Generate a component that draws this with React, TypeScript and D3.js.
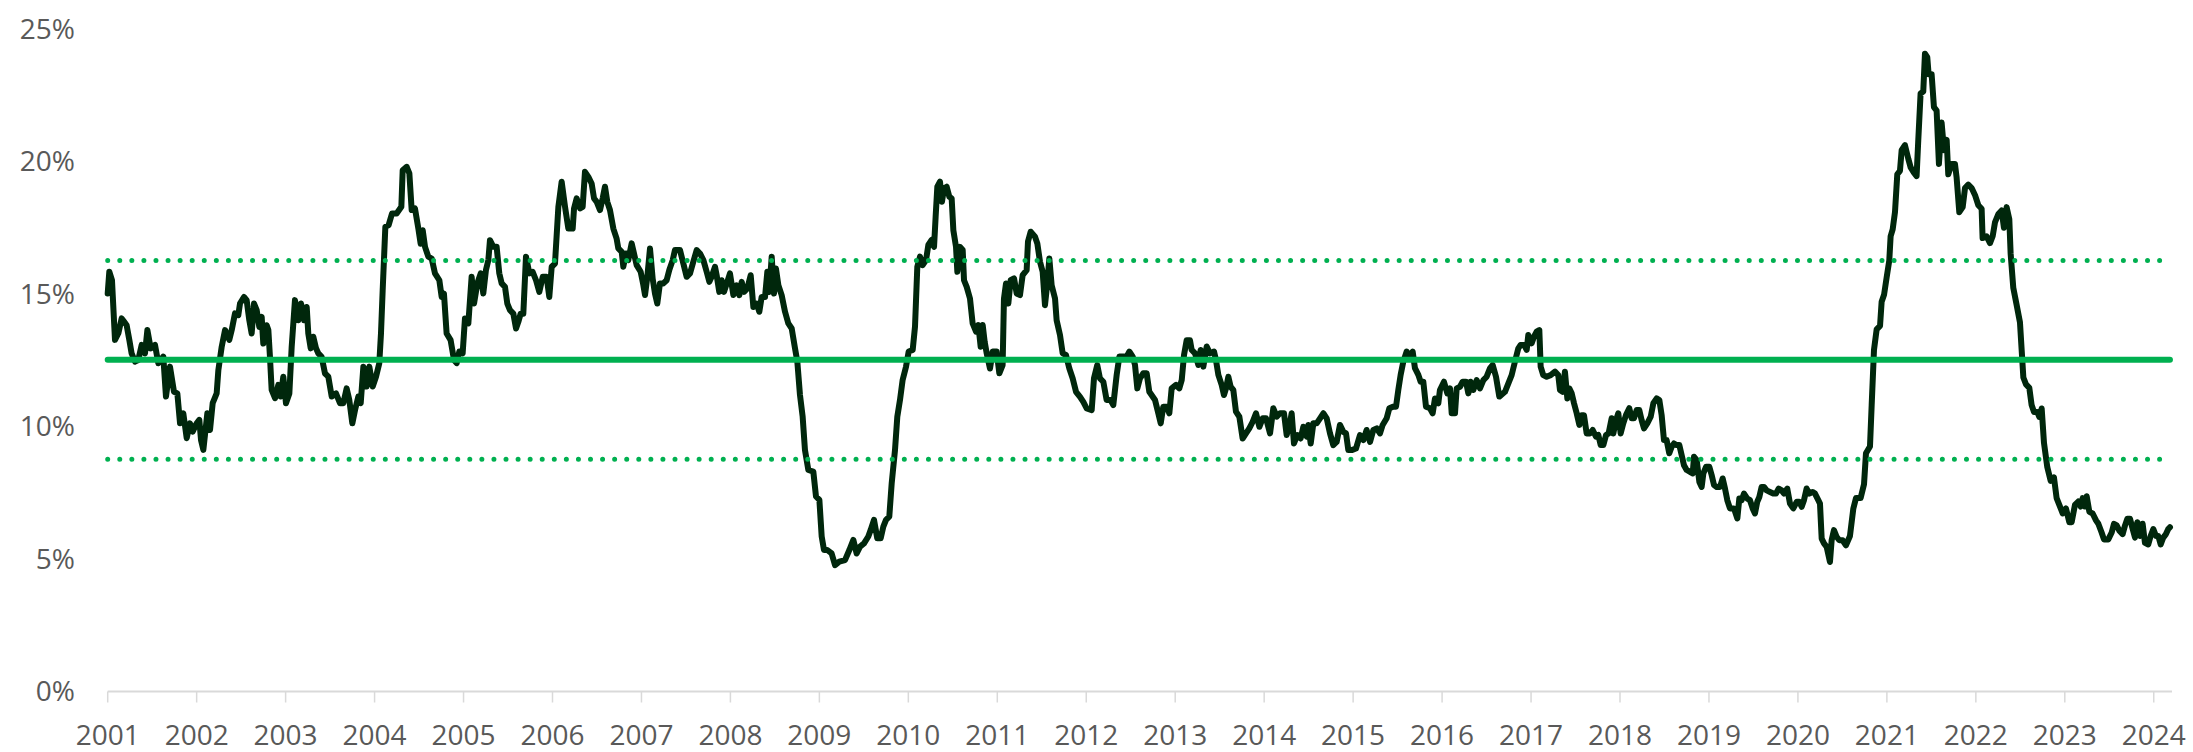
import React from "react";
import * as d3 from "d3";

const yearTicks = [2001, 2002, 2003, 2004, 2005, 2006, 2007, 2008, 2009, 2010, 2011, 2012, 2013, 2014, 2015, 2016, 2017, 2018, 2019, 2020, 2021, 2022, 2023, 2024];
const pctTicks = [0, 5, 10, 15, 20, 25];
const meanLevel = 12.5;
const upperBand = 16.25;
const lowerBand = 8.75;

// [decimal year, rate %]
const seg2001: [number, number][] = [
  [2001.0, 15.0], [2001.018, 15.82], [2001.048, 15.5], [2001.082, 13.25], [2001.12, 13.5], [2001.157, 14.06], [2001.183, 13.94],
  [2001.213, 13.8], [2001.243, 13.25], [2001.269, 12.74], [2001.307, 12.43], [2001.344, 12.49], [2001.382, 13.06], [2001.419, 12.74],
  [2001.446, 13.62], [2001.483, 12.93], [2001.532, 13.06], [2001.569, 12.37], [2001.625, 12.62], [2001.655, 11.11], [2001.7, 12.24],
  [2001.745, 11.29], [2001.783, 11.23], [2001.813, 10.1], [2001.85, 10.48], [2001.888, 9.54], [2001.925, 10.1], [2001.955, 9.79],
  [2002.0, 10.1], [2002.03, 10.23], [2002.049, 9.47], [2002.075, 9.1], [2002.12, 10.48], [2002.15, 9.85], [2002.18, 10.86],
  [2002.225, 11.23], [2002.244, 12.11], [2002.281, 12.98], [2002.319, 13.62], [2002.367, 13.25], [2002.394, 13.62], [2002.431, 14.25],
  [2002.468, 14.18], [2002.487, 14.62], [2002.532, 14.87], [2002.562, 14.75], [2002.592, 13.99], [2002.618, 13.49], [2002.645, 14.62],
  [2002.675, 14.37], [2002.704, 13.74], [2002.731, 14.12], [2002.749, 13.11], [2002.787, 13.8], [2002.806, 13.62], [2002.824, 12.61],
  [2002.843, 11.36], [2002.881, 11.05], [2002.918, 11.55], [2002.944, 11.11], [2002.974, 11.86], [2003.004, 10.86], [2003.042, 11.23],
  [2003.068, 12.98], [2003.105, 14.75], [2003.143, 13.99], [2003.173, 14.62], [2003.207, 13.99], [2003.237, 14.49], [2003.255, 13.49],
  [2003.282, 12.93], [2003.311, 13.37], [2003.342, 12.93], [2003.368, 12.74], [2003.405, 12.61], [2003.443, 11.98], [2003.48, 11.86],
  [2003.518, 11.11], [2003.566, 11.23], [2003.611, 10.86], [2003.649, 10.86], [2003.686, 11.42], [2003.716, 10.98], [2003.75, 10.1],
  [2003.78, 10.6], [2003.817, 11.11], [2003.844, 10.86], [2003.874, 12.24], [2003.911, 11.49], [2003.941, 12.24], [2003.979, 11.49],
  [2004.016, 11.86], [2004.053, 12.37], [2004.072, 13.49], [2004.091, 15.12], [2004.121, 17.51], [2004.158, 17.58], [2004.196, 18.02],
  [2004.248, 18.02], [2004.301, 18.27], [2004.316, 19.65], [2004.361, 19.78], [2004.391, 19.53], [2004.417, 18.15], [2004.454, 18.21],
  [2004.492, 17.45], [2004.518, 16.88], [2004.541, 17.39], [2004.567, 16.76], [2004.604, 16.39], [2004.642, 16.32], [2004.679, 15.76],
  [2004.728, 15.5], [2004.754, 14.87], [2004.78, 14.99], [2004.81, 13.49], [2004.855, 13.24], [2004.893, 12.49], [2004.923, 12.37],
  [2004.953, 12.81],
];

const seg2005: [number, number][] = [
  [2004.99, 12.74], [2005.016, 14.06], [2005.054, 13.87], [2005.091, 15.63], [2005.118, 14.62], [2005.155, 15.38], [2005.193, 15.76],
  [2005.222, 15.0], [2005.252, 15.89], [2005.279, 16.26], [2005.297, 17.01], [2005.335, 16.76], [2005.372, 16.76], [2005.402, 15.76],
  [2005.429, 15.38], [2005.466, 15.25], [2005.492, 14.62], [2005.522, 14.37], [2005.56, 14.24], [2005.59, 13.68], [2005.616, 13.93],
  [2005.642, 14.24], [2005.672, 14.24], [2005.702, 16.39], [2005.74, 15.76], [2005.777, 15.82], [2005.815, 15.5], [2005.852, 15.06],
  [2005.89, 15.63], [2005.934, 15.63], [2005.964, 14.87], [2005.991, 16.01], [2006.028, 16.13], [2006.066, 18.27], [2006.103, 19.22],
  [2006.141, 18.27], [2006.178, 17.45], [2006.227, 17.45], [2006.242, 18.21], [2006.272, 18.59], [2006.309, 18.21], [2006.339, 18.27],
  [2006.365, 19.59], [2006.403, 19.4], [2006.44, 19.15], [2006.467, 18.59], [2006.497, 18.46], [2006.534, 18.15], [2006.564, 18.59],
  [2006.59, 19.03], [2006.616, 18.46], [2006.646, 18.15], [2006.684, 17.45], [2006.721, 17.07], [2006.74, 16.7], [2006.778, 16.57],
  [2006.796, 16.01], [2006.826, 16.51], [2006.852, 16.26], [2006.89, 16.89], [2006.916, 16.51], [2006.946, 16.07], [2006.991, 15.82],
  [2007.021, 15.32], [2007.04, 14.94], [2007.066, 15.63], [2007.096, 16.7], [2007.126, 15.56], [2007.152, 15.0], [2007.178, 14.62],
  [2007.208, 15.38], [2007.246, 15.38], [2007.283, 15.5], [2007.313, 15.89], [2007.351, 16.26], [2007.377, 16.64], [2007.433, 16.64],
  [2007.471, 16.13], [2007.508, 15.63], [2007.546, 15.76], [2007.583, 16.2], [2007.621, 16.64], [2007.658, 16.51], [2007.696, 16.26],
  [2007.733, 15.82], [2007.763, 15.44], [2007.789, 15.63], [2007.827, 16.01], [2007.845, 15.7], [2007.875, 15.06], [2007.902, 15.5],
  [2007.928, 15.06], [2007.965, 15.44], [2007.995, 15.76], [2008.033, 14.94], [2008.07, 15.31], [2008.1, 14.94], [2008.127, 15.44],
  [2008.153, 15.06], [2008.19, 15.19], [2008.228, 15.69], [2008.258, 14.49], [2008.295, 14.62], [2008.325, 14.31], [2008.351, 14.87],
  [2008.389, 14.87], [2008.415, 15.82], [2008.437, 15.06], [2008.464, 16.39], [2008.49, 15.0], [2008.512, 15.94], [2008.539, 15.31],
  [2008.576, 14.94], [2008.614, 14.31], [2008.651, 13.87], [2008.689, 13.68], [2008.726, 12.93], [2008.752, 12.43], [2008.782, 11.17],
];

const seg2009: [number, number][] = [
  [2008.812, 10.35], [2008.838, 9.09], [2008.876, 8.34], [2008.932, 8.28], [2008.962, 7.34], [2009.0, 7.21], [2009.026, 5.83],
  [2009.052, 5.32], [2009.089, 5.32], [2009.138, 5.19], [2009.176, 4.75], [2009.224, 4.88], [2009.288, 4.94], [2009.337, 5.32],
  [2009.382, 5.7], [2009.419, 5.19], [2009.457, 5.45], [2009.502, 5.57], [2009.55, 5.83], [2009.577, 6.08], [2009.614, 6.46],
  [2009.651, 5.76], [2009.689, 5.76], [2009.719, 6.2], [2009.749, 6.46], [2009.786, 6.58], [2009.813, 7.84], [2009.85, 9.09],
  [2009.876, 10.35], [2009.906, 10.98], [2009.936, 11.74], [2009.974, 12.24], [2010.004, 12.81], [2010.049, 12.87], [2010.075, 13.75],
  [2010.101, 16.01], [2010.131, 16.39], [2010.161, 16.07], [2010.199, 16.26], [2010.225, 16.83], [2010.262, 17.02], [2010.289, 16.76],
  [2010.307, 17.9], [2010.326, 19.03], [2010.356, 19.22], [2010.378, 18.46], [2010.401, 18.97], [2010.431, 19.03], [2010.461, 18.65],
  [2010.487, 18.59], [2010.506, 17.39], [2010.536, 16.76], [2010.551, 15.82], [2010.581, 16.76], [2010.611, 16.64], [2010.626, 15.5],
  [2010.656, 15.25], [2010.693, 14.81], [2010.723, 13.87], [2010.761, 13.56], [2010.787, 13.81], [2010.813, 12.99], [2010.836, 13.81],
  [2010.858, 13.18], [2010.881, 12.74], [2010.918, 12.17], [2010.948, 12.81], [2010.993, 12.81], [2011.023, 11.99], [2011.06, 12.3],
  [2011.075, 14.81], [2011.098, 15.38], [2011.124, 14.62], [2011.15, 15.5], [2011.188, 15.57], [2011.218, 15.0], [2011.255, 14.94],
  [2011.285, 15.69], [2011.33, 15.88], [2011.345, 16.96], [2011.375, 17.33], [2011.424, 17.14], [2011.45, 16.89], [2011.48, 16.2],
  [2011.51, 15.82], [2011.536, 14.56], [2011.562, 15.38], [2011.585, 16.32], [2011.611, 15.31], [2011.649, 14.81], [2011.667, 13.99],
  [2011.705, 13.43], [2011.735, 12.74], [2011.772, 12.68], [2011.81, 12.17], [2011.847, 11.8], [2011.885, 11.29], [2011.93, 11.1],
  [2011.967, 10.91], [2012.005, 10.66], [2012.061, 10.6], [2012.087, 11.8], [2012.124, 12.3], [2012.154, 11.8], [2012.192, 11.67],
  [2012.229, 10.98], [2012.274, 10.98], [2012.304, 10.79], [2012.342, 11.93], [2012.372, 12.62], [2012.417, 12.62], [2012.454, 12.62],
  [2012.484, 12.81], [2012.522, 12.62], [2012.548, 12.3], [2012.574, 11.42], [2012.604, 11.8], [2012.642, 11.99], [2012.679, 11.99],
  [2012.709, 11.29],
];

const seg2013: [number, number][] = [
  [2012.773, 10.98], [2012.81, 10.48], [2012.837, 10.1], [2012.866, 10.73], [2012.904, 10.73], [2012.934, 10.48], [2012.96, 11.42],
  [2013.009, 11.55], [2013.046, 11.42], [2013.073, 11.73], [2013.099, 12.68], [2013.129, 13.24], [2013.166, 13.24], [2013.185, 12.87],
  [2013.223, 12.74], [2013.26, 12.3], [2013.286, 12.87], [2013.316, 12.24], [2013.354, 13.0], [2013.391, 12.74], [2013.436, 12.81],
  [2013.458, 12.49], [2013.485, 11.93], [2013.522, 11.55], [2013.548, 11.17], [2013.571, 11.42], [2013.597, 11.86], [2013.623, 11.48],
  [2013.653, 11.36], [2013.683, 10.54], [2013.721, 10.35], [2013.758, 9.53], [2013.796, 9.72], [2013.833, 9.91], [2013.871, 10.16],
  [2013.908, 10.48], [2013.946, 9.97], [2013.983, 10.29], [2014.021, 10.29], [2014.066, 9.72], [2014.103, 10.67], [2014.141, 10.35],
  [2014.178, 10.48], [2014.223, 10.48], [2014.253, 9.66], [2014.29, 10.1], [2014.309, 10.48], [2014.335, 9.34], [2014.373, 9.66],
  [2014.41, 9.53], [2014.44, 9.97], [2014.478, 9.6], [2014.496, 10.04], [2014.523, 9.34], [2014.553, 10.1], [2014.59, 10.1],
  [2014.628, 10.29], [2014.665, 10.48], [2014.703, 10.29], [2014.74, 9.72], [2014.777, 9.28], [2014.815, 9.4], [2014.852, 10.04],
  [2014.89, 9.78], [2014.92, 9.72], [2014.946, 9.09], [2014.984, 9.09], [2015.032, 9.15], [2015.077, 9.66], [2015.115, 9.47],
  [2015.152, 9.85], [2015.19, 9.4], [2015.227, 9.85], [2015.265, 9.91], [2015.302, 9.72], [2015.332, 10.04], [2015.377, 10.29],
  [2015.407, 10.67], [2015.452, 10.73], [2015.482, 10.73], [2015.508, 11.36], [2015.534, 11.93], [2015.564, 12.43], [2015.602, 12.81],
  [2015.632, 12.62], [2015.669, 12.81], [2015.695, 12.18], [2015.733, 11.93], [2015.759, 11.67], [2015.789, 11.67], [2015.819, 10.73],
  [2015.864, 10.67], [2015.894, 10.48], [2015.92, 11.04], [2015.958, 10.86], [2015.976, 11.36], [2016.021, 11.67], [2016.059, 11.23],
  [2016.089, 11.42], [2016.108, 10.48], [2016.145, 10.48], [2016.164, 11.42], [2016.201, 11.48], [2016.231, 11.67], [2016.269, 11.67],
  [2016.295, 11.23], [2016.321, 11.67], [2016.351, 11.36], [2016.389, 11.73], [2016.426, 11.42], [2016.464, 11.73], [2016.501, 11.86],
  [2016.539, 12.18], [2016.569, 12.3], [2016.606, 11.86], [2016.643, 11.11],
];

const seg2017: [number, number][] = [
  [2016.707, 11.29], [2016.745, 11.61], [2016.782, 11.92], [2016.819, 12.43], [2016.857, 12.93], [2016.883, 13.06], [2016.921, 13.06],
  [2016.951, 12.87], [2016.969, 13.43], [2017.007, 13.12], [2017.033, 13.37], [2017.063, 13.56], [2017.093, 13.62], [2017.108, 12.24],
  [2017.137, 11.92], [2017.175, 11.86], [2017.22, 11.92], [2017.269, 12.05], [2017.306, 11.92], [2017.325, 11.36], [2017.355, 11.29],
  [2017.381, 12.05], [2017.408, 11.04], [2017.43, 11.42], [2017.457, 11.23], [2017.483, 10.86], [2017.513, 10.48], [2017.543, 10.04],
  [2017.569, 10.41], [2017.595, 10.41], [2017.625, 9.72], [2017.663, 9.72], [2017.693, 9.85], [2017.73, 9.6], [2017.756, 9.66],
  [2017.783, 9.28], [2017.813, 9.28], [2017.843, 9.66], [2017.872, 9.72], [2017.906, 10.29], [2017.925, 9.72], [2017.955, 10.22],
  [2017.981, 10.48], [2018.007, 9.72], [2018.037, 10.1], [2018.067, 10.41], [2018.104, 10.67], [2018.131, 10.29], [2018.157, 10.29],
  [2018.187, 10.6], [2018.217, 10.6], [2018.243, 10.22], [2018.27, 9.91], [2018.307, 10.1], [2018.345, 10.35], [2018.375, 10.86],
  [2018.412, 11.04], [2018.442, 10.98], [2018.468, 10.41], [2018.494, 9.47], [2018.524, 9.47], [2018.554, 8.97], [2018.581, 9.22],
  [2018.607, 9.34], [2018.637, 9.28], [2018.667, 9.28], [2018.693, 8.9], [2018.719, 8.52], [2018.749, 8.34], [2018.787, 8.27],
  [2018.817, 8.21], [2018.832, 8.84], [2018.862, 8.71], [2018.892, 7.89], [2018.918, 7.7], [2018.937, 8.21], [2018.967, 8.46],
  [2019.004, 8.46], [2019.03, 8.15], [2019.057, 7.77], [2019.087, 7.7], [2019.124, 7.7], [2019.154, 8.02], [2019.18, 7.64],
  [2019.206, 7.2], [2019.236, 6.89], [2019.281, 6.89], [2019.319, 6.51], [2019.341, 7.26], [2019.367, 7.2], [2019.394, 7.45],
  [2019.431, 7.26], [2019.461, 7.2], [2019.491, 6.89], [2019.517, 6.7], [2019.543, 7.14], [2019.566, 7.32], [2019.592, 7.7],
  [2019.618, 7.7], [2019.648, 7.57], [2019.686, 7.51], [2019.723, 7.45], [2019.753, 7.45], [2019.783, 7.64], [2019.817, 7.57],
  [2019.843, 7.45], [2019.88, 7.64], [2019.911, 7.07], [2019.948, 6.89], [2019.986, 7.14], [2020.015, 7.14], [2020.042, 6.95],
  [2020.068, 7.2], [2020.098, 7.64], [2020.128, 7.45], [2020.166, 7.51], [2020.192, 7.45], [2020.229, 7.2], [2020.248, 7.07],
  [2020.267, 5.75], [2020.293, 5.57], [2020.323, 5.44], [2020.36, 4.87], [2020.379, 5.69], [2020.405, 6.07], [2020.435, 5.82],
  [2020.465, 5.69], [2020.502, 5.69], [2020.54, 5.5],
];

const seg2021: [number, number][] = [
  [2020.585, 5.85], [2020.623, 6.89], [2020.653, 7.28], [2020.705, 7.28], [2020.743, 7.8], [2020.765, 8.97], [2020.81, 9.23],
  [2020.829, 10.79], [2020.855, 12.87], [2020.885, 13.65], [2020.923, 13.78], [2020.941, 14.69], [2020.968, 14.95], [2020.997, 15.6],
  [2021.027, 16.25], [2021.042, 17.16], [2021.065, 17.42], [2021.091, 18.07], [2021.117, 19.5], [2021.147, 19.63], [2021.166, 20.41],
  [2021.203, 20.6], [2021.241, 20.08], [2021.267, 19.76], [2021.304, 19.56], [2021.334, 19.43], [2021.353, 20.8], [2021.379, 22.55],
  [2021.409, 22.62], [2021.428, 24.05], [2021.454, 23.92], [2021.469, 23.27], [2021.503, 23.27], [2021.529, 22.03], [2021.559, 21.9],
  [2021.585, 19.89], [2021.615, 21.45], [2021.642, 20.41], [2021.672, 20.8], [2021.69, 19.5], [2021.728, 19.89], [2021.765, 19.89],
  [2021.784, 19.37], [2021.814, 18.07], [2021.852, 18.26], [2021.878, 18.98], [2021.915, 19.11], [2021.953, 18.98], [2021.99, 18.72],
  [2022.028, 18.33], [2022.065, 18.2], [2022.076, 17.09], [2022.121, 17.16], [2022.159, 16.9], [2022.189, 17.16], [2022.215, 17.68],
  [2022.253, 18.0], [2022.29, 18.13], [2022.316, 17.48], [2022.346, 18.26], [2022.376, 17.81], [2022.391, 16.51], [2022.421, 15.21],
  [2022.459, 14.56], [2022.496, 13.91], [2022.515, 12.87], [2022.534, 11.83], [2022.564, 11.57], [2022.601, 11.44], [2022.627, 10.79],
  [2022.654, 10.53], [2022.691, 10.53], [2022.713, 10.34], [2022.74, 10.66], [2022.766, 9.36], [2022.803, 8.45], [2022.841, 7.93],
  [2022.878, 8.06], [2022.908, 7.28], [2022.946, 6.96], [2022.976, 6.7], [2023.013, 6.89], [2023.051, 6.37], [2023.077, 6.37],
  [2023.114, 7.02], [2023.152, 7.15], [2023.178, 6.96], [2023.201, 7.28], [2023.227, 6.96], [2023.246, 7.35], [2023.276, 6.76],
  [2023.313, 6.7], [2023.351, 6.44], [2023.377, 6.31], [2023.414, 5.98], [2023.44, 5.72], [2023.489, 5.72], [2023.527, 5.98],
  [2023.553, 6.31], [2023.583, 6.25], [2023.613, 6.05], [2023.65, 5.92], [2023.677, 6.25], [2023.703, 6.5], [2023.733, 6.5],
  [2023.763, 6.11], [2023.789, 5.79], [2023.815, 6.37], [2023.845, 5.85], [2023.875, 6.31], [2023.901, 5.59], [2023.938, 5.53],
  [2023.965, 5.85], [2023.995, 6.11], [2024.025, 5.85], [2024.051, 5.85], [2024.078, 5.53], [2024.107, 5.79], [2024.137, 5.92],
  [2024.163, 6.11], [2024.182, 6.18],
];

const series: [number, number][] = [...seg2001, ...seg2005, ...seg2009, ...seg2013, ...seg2017, ...seg2021];

const W = 2193;
const H = 752;
const FONT = "'Open Sans', 'Noto Sans', sans-serif";
const TEXT = "#595959";
const GREEN = "#00B050";
const DARK = "#00270C";
const AXIS = "#D9D9D9";

export default function App() {
  const x = d3.scaleLinear().domain([2001, 2024.205]).range([107.7, 2172]);
  const y = d3.scaleLinear().domain([0, 25]).range([691, 28.5]);
  const linePath = d3
    .line<[number, number]>()
    .x((d) => x(d[0]))
    .y((d) => y(d[1]))(series) as string;

  const x0 = x(series[0][0]);
  const x1 = x(series[series.length - 1][0]);
  const axisY = y(0) + 0.5;

  return (
    <>
      <style>{"html,body{margin:0;padding:0;background:#fff;}"}</style>
      <svg width={W} height={H} style={{ display: "block", position: "absolute", left: 0, top: 0 }}>
        <rect x={0} y={0} width={W} height={H} fill="#fff" />
        {/* x axis */}
        <line x1={x(2001)} x2={x.range()[1]} y1={axisY} y2={axisY} stroke={AXIS} strokeWidth={2} />
        {yearTicks.map((t) => (
          <g key={t}>
            <line x1={x(t)} x2={x(t)} y1={axisY} y2={axisY + 11} stroke={AXIS} strokeWidth={1.5} />
            <text x={x(t)} y={745} textAnchor="middle" fontFamily={FONT} fontSize={28} fill={TEXT}>
              {t}
            </text>
          </g>
        ))}
        {/* y labels */}
        {pctTicks.map((t) => (
          <text key={t} x={75} y={y(t) + 10} textAnchor="end" fontFamily={FONT} fontSize={28} fill={TEXT}>
            {t}%
          </text>
        ))}
        {/* data line */}
        <path d={linePath} fill="none" stroke={DARK} strokeWidth={6} strokeLinejoin="round" strokeLinecap="round" />
        {/* reference lines */}
        <line x1={x0} x2={x1} y1={y(meanLevel)} y2={y(meanLevel)} stroke={GREEN} strokeWidth={6} strokeLinecap="round" />
        {[upperBand, lowerBand].map((v) => (
          <line
            key={v}
            x1={x0}
            x2={x1}
            y1={y(v)}
            y2={y(v)}
            stroke={GREEN}
            strokeWidth={5}
            strokeLinecap="round"
            strokeDasharray="0 12.07"
          />
        ))}
      </svg>
    </>
  );
}
